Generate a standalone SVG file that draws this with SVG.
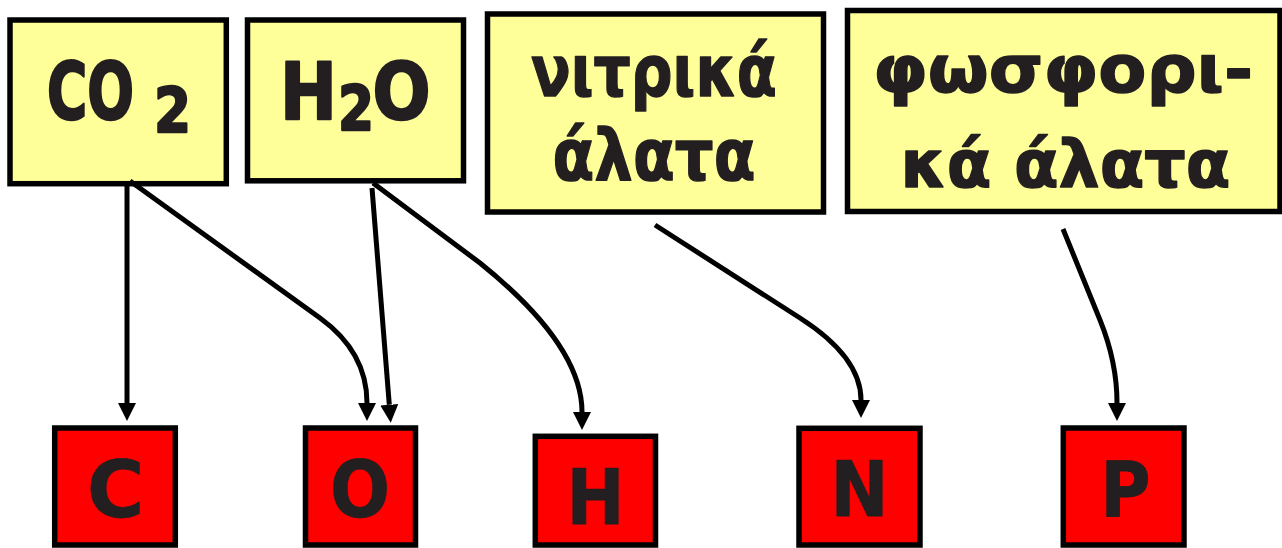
<svg xmlns="http://www.w3.org/2000/svg" width="1282" height="548" viewBox="0 0 1282 548">
<defs>
<style>
.src{fill:#FFFF99;stroke:#000;stroke-width:5.5}
.el{fill:#FF0000;stroke:#000;stroke-width:5.5}
.t{font-family:"DejaVu Sans","Noto Sans",sans-serif;font-weight:bold;fill:#231F20;stroke:#231F20;stroke-linejoin:round}
.f{stroke-width:2.2;vector-effect:non-scaling-stroke}
.g{stroke-width:1.4}
.e{stroke-width:0.8}
.c{fill:none;stroke:#000;stroke-width:5}
</style>
<marker id="ah" markerUnits="userSpaceOnUse" markerWidth="18" markerHeight="18" refX="0" refY="8.5" orient="auto" viewBox="0 0 17 17">
<path d="M0,0 L17,8.5 L0,17 z" fill="#000"/>
</marker>
</defs>
<rect width="1282" height="548" fill="#fff"/>
<g id="node-co2">
<rect class="src" x="10" y="20" width="216.3" height="163.7"/>
<text class="t f" transform="translate(47,119) scale(0.705,1)" font-size="78">CO</text>
<text class="t f" transform="translate(154,132) scale(0.86,1)" font-size="62">2</text>
</g>
<g id="node-h2o">
<rect class="src" x="247.5" y="20" width="216" height="160.8"/>
<text class="t f" transform="translate(280,119) scale(0.872,1)" font-size="78">H</text>
<text class="t f" transform="translate(338,130) scale(0.835,1)" font-size="62">2</text>
<text class="t f" transform="translate(372.5,119) scale(0.875,1)" font-size="78">O</text>
</g>
<g id="node-nitrika">
<rect class="src" x="487.5" y="14" width="336" height="198"/>
<text class="t g" x="654" y="96" font-size="72" text-anchor="middle" textLength="246" lengthAdjust="spacingAndGlyphs">νιτρικά</text>
<text class="t g" x="654" y="180" font-size="72" text-anchor="middle" textLength="203" lengthAdjust="spacingAndGlyphs">άλατα</text>
</g>
<g id="node-fosforika">
<rect class="src" x="847.5" y="10.5" width="432.5" height="201"/>
<text class="t g" x="1063" y="92" font-size="65" text-anchor="middle" textLength="380" lengthAdjust="spacingAndGlyphs">φωσφορι-</text>
<text class="t g" x="1065.5" y="187" font-size="65" text-anchor="middle" textLength="330" lengthAdjust="spacingAndGlyphs">κά άλατα</text>
</g>
<g id="node-c">
<rect class="el" x="54.7" y="428" width="120.6" height="117"/>
<text class="t e" x="115.5" y="517" font-size="78" text-anchor="middle">C</text>
</g>
<g id="node-o">
<rect class="el" x="305.5" y="428" width="110" height="117"/>
<text class="t e" x="360" y="517" font-size="78" text-anchor="middle" textLength="60" lengthAdjust="spacingAndGlyphs">O</text>
</g>
<g id="node-h">
<rect class="el" x="535.3" y="436.3" width="120.2" height="108.7"/>
<text class="t e" x="595.5" y="524" font-size="76" text-anchor="middle" textLength="58" lengthAdjust="spacingAndGlyphs">H</text>
</g>
<g id="node-n">
<rect class="el" x="799" y="428.3" width="121" height="116.7"/>
<text class="t e" x="859.5" y="515.7" font-size="76" text-anchor="middle" textLength="58" lengthAdjust="spacingAndGlyphs">N</text>
</g>
<g id="node-p">
<rect class="el" x="1063.3" y="428" width="120.7" height="117"/>
<text class="t e" x="1125.5" y="515.7" font-size="76" text-anchor="middle" textLength="50" lengthAdjust="spacingAndGlyphs">P</text>
</g>
<g id="connectors">
<path class="c" d="M127,181 L127,403" marker-end="url(#ah)"/>
<path class="c" d="M130,181 L320,318 Q367,352 367,403" marker-end="url(#ah)"/>
<path class="c" d="M372,188 L389.3,404.8" marker-end="url(#ah)"/>
<path class="c" d="M373,183 L480,263 Q582,345 582,412" marker-end="url(#ah)"/>
<path class="c" d="M655,225 L800,318 Q861,357 861,400" marker-end="url(#ah)"/>
<path class="c" d="M1063,229 L1100,320 Q1117,362 1117,403" marker-end="url(#ah)"/>
</g>
</svg>
